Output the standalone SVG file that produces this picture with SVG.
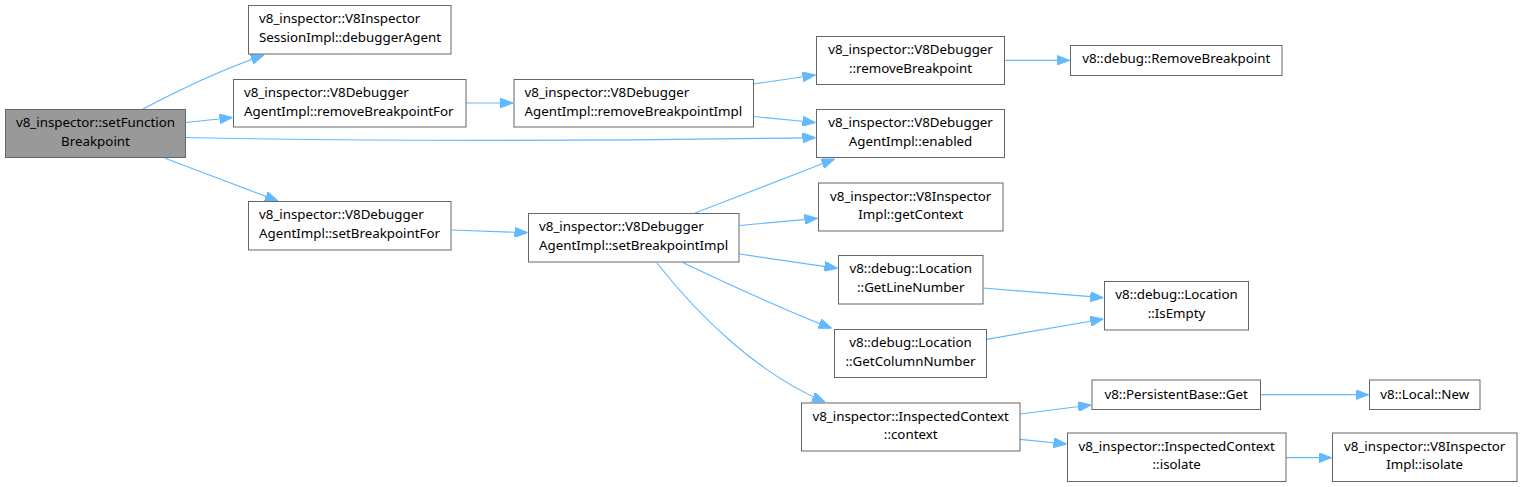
<svg xmlns="http://www.w3.org/2000/svg" width="1524" height="487" viewBox="0 0 1524 487">
<style>
.n rect{fill:#ffffff;stroke:#666666;stroke-width:1}
.n.root rect{fill:#999999}
.n text{font-family:"Noto Sans","Open Sans","DejaVu Sans",sans-serif;font-size:13.33px;fill:#000000}
.c{text-anchor:middle}
.e path{fill:none;stroke:#63b8ff;stroke-width:1.2;marker-end:url(#ah)}
</style>
<defs>
<marker id="ah" markerUnits="userSpaceOnUse" viewBox="0 0 13 10" refX="13" refY="5" markerWidth="13" markerHeight="10" orient="auto">
<path d="M0,0 L13,5 L0,10 z" fill="#63b8ff" stroke="#63b8ff" stroke-width="1"/>
</marker>
</defs>
<rect width="1524" height="487" fill="#ffffff"/>
<g id="edges" class="e">
<path d="M143,109 C175,92 215,72 264,55"/>
<path d="M186,122.5 L232.5,117.5"/>
<path d="M186,137.5 C400,142 600,141 815.5,137.7"/>
<path d="M165,158.3 L278,201"/>
<path d="M466,103 L513,103"/>
<path d="M753.5,84 L815.5,75"/>
<path d="M753.5,116.5 L815.5,122.5"/>
<path d="M1005,60.3 L1069.5,60.3"/>
<path d="M451.5,230 L527.5,232.7"/>
<path d="M695,213 L834.5,159"/>
<path d="M739.5,225.5 L817.5,218.3"/>
<path d="M739.5,254 L837.5,268.3"/>
<path d="M683.3,262.7 C730,285 780,308 831.5,328.3"/>
<path d="M657,263 C700,318 760,375 825,402"/>
<path d="M983,288 L1103.3,297.7"/>
<path d="M986.7,339.3 L1103.3,319"/>
<path d="M1020,414 L1091,405"/>
<path d="M1020,439.3 L1066.5,444"/>
<path d="M1260.5,394.7 L1368.5,394.7"/>
<path d="M1286,457.7 L1331.5,457.7"/>
</g>
<g id="n0" class="n root"><rect x="5.5" y="109.5" width="180" height="48"/><text class="c" x="95.5" y="127.2">v8_inspector::setFunction</text><text class="c" x="95.5" y="145.7">Breakpoint</text></g>
<g id="n1" class="n"><rect x="248.5" y="5.5" width="202.5" height="48.5"/><text x="259" y="23.2">v8_inspector::V8Inspector</text><text x="259" y="41.7">SessionImpl::debuggerAgent</text></g>
<g id="n2" class="n"><rect x="233.5" y="79.5" width="232.5" height="47.5"/><text x="244" y="97.2">v8_inspector::V8Debugger</text><text x="244" y="115.7">AgentImpl::removeBreakpointFor</text></g>
<g id="n3" class="n"><rect x="816.5" y="109.5" width="188" height="48"/><text class="c" x="910.5" y="127.2">v8_inspector::V8Debugger</text><text class="c" x="910.5" y="145.7">AgentImpl::enabled</text></g>
<g id="n4" class="n"><rect x="248.5" y="201.5" width="202.5" height="48.5"/><text x="259" y="219.2">v8_inspector::V8Debugger</text><text x="259" y="237.7">AgentImpl::setBreakpointFor</text></g>
<g id="n5" class="n"><rect x="514" y="79.5" width="239.5" height="47.5"/><text x="524.5" y="97.2">v8_inspector::V8Debugger</text><text x="524.5" y="115.7">AgentImpl::removeBreakpointImpl</text></g>
<g id="n6" class="n"><rect x="816.5" y="36.5" width="188" height="48"/><text class="c" x="910.5" y="54.2">v8_inspector::V8Debugger</text><text class="c" x="910.5" y="72.7">::removeBreakpoint</text></g>
<g id="n7" class="n"><rect x="1070.5" y="45.5" width="211.5" height="30"/><text class="c" x="1176.2" y="63.2">v8::debug::RemoveBreakpoint</text></g>
<g id="n8" class="n"><rect x="528.5" y="213.5" width="210.5" height="48.5"/><text x="539" y="231.2">v8_inspector::V8Debugger</text><text x="539" y="249.7">AgentImpl::setBreakpointImpl</text></g>
<g id="n9" class="n"><rect x="818.5" y="183" width="184.5" height="48"/><text class="c" x="910.7" y="200.7">v8_inspector::V8Inspector</text><text class="c" x="910.7" y="219.2">Impl::getContext</text></g>
<g id="n10" class="n"><rect x="838.5" y="255.5" width="144.5" height="48.5"/><text class="c" x="910.7" y="273.2">v8::debug::Location</text><text class="c" x="910.7" y="291.7">::GetLineNumber</text></g>
<g id="n11" class="n"><rect x="834.5" y="329.5" width="152" height="48"/><text class="c" x="910.5" y="347.2">v8::debug::Location</text><text class="c" x="910.5" y="365.7">::GetColumnNumber</text></g>
<g id="n12" class="n"><rect x="801.5" y="403" width="218.5" height="48"/><text class="c" x="910.7" y="420.7">v8_inspector::InspectedContext</text><text class="c" x="910.7" y="439.2">::context</text></g>
<g id="n13" class="n"><rect x="1104.5" y="281.5" width="144" height="48.5"/><text class="c" x="1176.5" y="299.2">v8::debug::Location</text><text class="c" x="1176.5" y="317.7">::IsEmpty</text></g>
<g id="n14" class="n"><rect x="1092" y="380" width="168.5" height="29.5"/><text class="c" x="1176.2" y="399.2">v8::PersistentBase::Get</text></g>
<g id="n15" class="n"><rect x="1369.5" y="380" width="110.5" height="29.5"/><text class="c" x="1424.7" y="399.2">v8::Local::New</text></g>
<g id="n16" class="n"><rect x="1067.5" y="433" width="218.5" height="48.5"/><text class="c" x="1176.7" y="450.7">v8_inspector::InspectedContext</text><text class="c" x="1176.7" y="469.2">::isolate</text></g>
<g id="n17" class="n"><rect x="1332.5" y="433" width="184.5" height="48.5"/><text class="c" x="1424.7" y="450.7">v8_inspector::V8Inspector</text><text class="c" x="1424.7" y="469.2">Impl::isolate</text></g>
</svg>
